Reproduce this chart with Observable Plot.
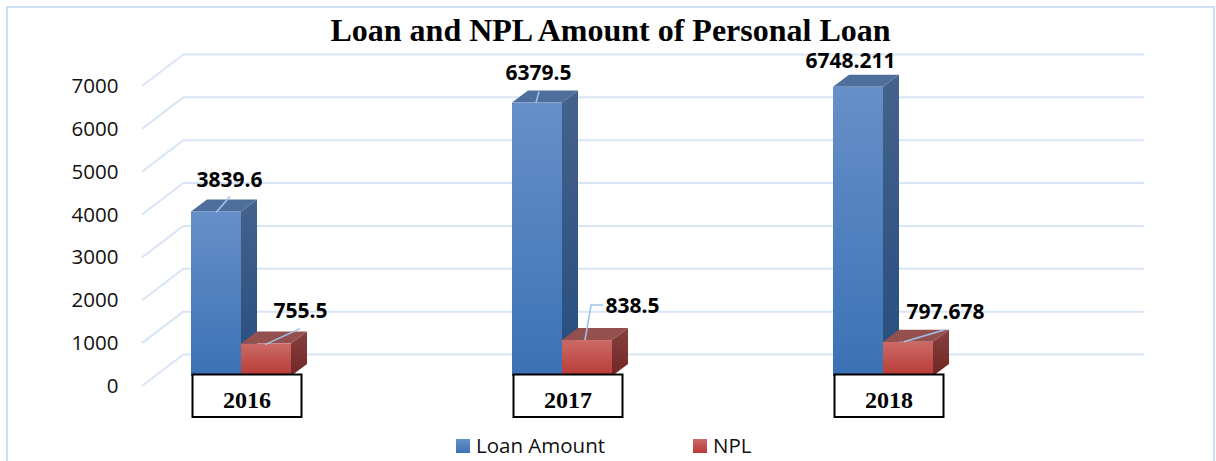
<!DOCTYPE html>
<html>
<head>
<meta charset="utf-8">
<script src="https://cdn.jsdelivr.net/npm/d3@7"></script>
<script src="https://cdn.jsdelivr.net/npm/@observablehq/plot@0.6"></script>
<style>
html,body{margin:0;padding:0;background:#fff;overflow:hidden}
svg{display:block}
</style>
</head>
<body>
<div id="chart"></div>
<script>
const chartTitle = "Loan and NPL Amount of Personal Loan";
const years = [2016, 2017, 2018];
const seriesNames = ["Loan Amount", "NPL"];
const loanAmount = [3839.6, 6379.5, 6748.211];
const npl = [755.5, 838.5, 797.678];
const yTicks = [0, 1000, 2000, 3000, 4000, 5000, 6000, 7000];

// layout (pixels)
const BAR = 50, BAR_DX = 16, BAR_DY = 12, BAR_LIFT = 10, WALL_DX = 42, WALL_DY = 32;
const GRID = "#d8e5f5", LEADER = "#9dc3e8";
const PX_PER_YEAR = 321;
const barW = BAR / PX_PER_YEAR;
const sans = "'Open Sans', sans-serif";
const serif = "'Liberation Serif', serif";

const loanRows = years.map((year, i) => ({year, value: loanAmount[i]}));
const nplRows = years.map((year, i) => ({year, value: npl[i]}));
const labelOffsets = {
  loan: [[13, -32], [1, -30], [-8, -26]],
  npl: [[34, -33], [45, -34], [37, -30]]
};
const leaders = {
  loan: [[[0, 1], [14, -15]], [[-1, 0], [2, -11]], null],
  npl: [[[-1, 1], [34, -15]], [[-2, 0], [4, -35], [16, -35]], [[-4, 0], [37, -12]]]
};

const ns = "http://www.w3.org/2000/svg";
function el(name, attrs, parent, text) {
  const e = document.createElementNS(ns, name);
  for (const k in attrs) e.setAttribute(k, attrs[k]);
  if (text != null) e.textContent = text;
  if (parent) parent.appendChild(e);
  return e;
}
function gradient(defs, id, top, bottom) {
  const g = el("linearGradient", {id, x1: 0, y1: 0, x2: 0, y2: 1}, defs);
  el("stop", {offset: "0%", "stop-color": top}, g);
  el("stop", {offset: "100%", "stop-color": bottom}, g);
}
const defsMark = () => {
  const g = el("g", {});
  const defs = el("defs", {}, g);
  gradient(defs, "loanFront", "#678fc8", "#3b72b5");
  gradient(defs, "loanSide", "#44628c", "#274d7e");
  gradient(defs, "nplFront", "#cb6a66", "#b83a36");
  gradient(defs, "nplSide", "#87403e", "#702624");
  return g;
};
const frameMark = (idx, s, v, dim) => {
  return el("rect", {x: 7, y: 7, width: dim.width - 9, height: dim.height + 20, fill: "none", stroke: "#cfdff3", "stroke-width": 2});
};
const diagonals = (idx, {x, y}) => {
  const g = el("g", {});
  const x0 = x(2016 - 99 / PX_PER_YEAR);
  for (const t of yTicks) {
    el("line", {x1: x0, y1: y(t), x2: x0 + WALL_DX, y2: y(t) - WALL_DY, stroke: GRID, "stroke-width": 2}, g);
  }
  return g;
};
const faces = (rows, side, topFill) => (idx, {x, y}) => {
  const g = el("g", {});
  for (const d of rows) {
    const xl = x(d.year + (side === "npl" ? 0 : -barW));
    const xr = xl + BAR;
    const yt = y(d.value) - BAR_LIFT;
    const yb = y(0) - BAR_LIFT;
    el("polygon", {points: `${xl},${yt} ${xl + BAR_DX},${yt - BAR_DY} ${xr + BAR_DX},${yt - BAR_DY} ${xr},${yt}`, fill: topFill}, g);
    el("polygon", {points: `${xr},${yt} ${xr + BAR_DX},${yt - BAR_DY} ${xr + BAR_DX},${yb - BAR_DY} ${xr},${yb}`, fill: `url(#${side}Side)`}, g);
  }
  return g;
};
const leaderLines = (rows, side) => (idx, {x, y}) => {
  const g = el("g", {});
  rows.forEach((d, i) => {
    const pts = leaders[side][i];
    if (!pts) return;
    const cx = x(d.year + (side === "npl" ? barW / 2 : -barW / 2));
    const cy = y(d.value) - BAR_LIFT;
    el("polyline", {points: pts.map(([a, b]) => `${cx + a},${cy + b}`).join(" "), fill: "none", stroke: LEADER, "stroke-width": 1.6}, g);
  });
  return g;
};
const yearBoxes = (idx, {x, y}) => {
  const g = el("g", {});
  for (const yr of years) {
    const xl = x(yr) - BAR + 1.5;
    el("rect", {x: xl, y: y(0) - 11.5, width: 109, height: 42.5, fill: "#fff", stroke: "#000", "stroke-width": 2}, g);
    el("text", {x: xl + 54.5, y: y(0) + 22, "text-anchor": "middle", "font-family": serif, "font-weight": "bold", "font-size": 24, fill: "#000"}, g, yr);
  }
  return g;
};
const legend = () => {
  const g = el("g", {});
  const items = [[456, "url(#loanFront)"], [693, "url(#nplFront)"]];
  seriesNames.forEach((name, i) => {
    const [lx, fill] = items[i];
    el("rect", {x: lx, y: 439, width: 14, height: 14, fill}, g);
    el("text", {x: lx + 20, y: 453, "text-anchor": "start", "font-family": sans, "font-size": 20.5, fill: "#111"}, g, name);
  });
  return g;
};
const labelMark = (rows, side) => Plot.text(rows.map((d, i) => ({...d, ox: labelOffsets[side][i][0], oy: labelOffsets[side][i][1]})), {
  x: d => d.year + (side === "npl" ? barW / 2 : -barW / 2) + d.ox / PX_PER_YEAR,
  y: d => d.value,
  text: d => String(d.value),
  fontFamily: sans,
  fontWeight: "bold",
  fontSize: 21,
  fill: "#000",
  render(index, scales, values, dim, ctx, next) {
    const g = next(index, scales, values, dim, ctx);
    g.querySelectorAll("text").forEach((t, j) => {
      const off = labelOffsets[side][index[j]][1] - BAR_LIFT;
      t.setAttribute("transform", `${t.getAttribute("transform") || ""} translate(0,${off})`);
    });
    return g;
  }
});

const plot = Plot.plot({
  width: 1216,
  height: 461,
  marginLeft: 142,
  marginRight: 114,
  marginTop: 86,
  marginBottom: 75,
  style: {background: "#fff", overflow: "visible"},
  x: {type: "linear", domain: [2016 - 99 / PX_PER_YEAR, 2018 + 219 / PX_PER_YEAR], axis: null},
  y: {domain: [0, 7000], ticks: yTicks, label: null},
  marks: [
    defsMark,
    frameMark,
    Plot.ruleY(yTicks, {dx: WALL_DX, dy: -WALL_DY, stroke: GRID, strokeWidth: 2}),
    diagonals,
    Plot.axisY({ticks: yTicks, tickSize: 0, tickPadding: 24, tickFormat: d => String(d), fontFamily: sans, fontSize: 20.5, fill: "#111", label: null}),
    faces(loanRows, "loan", "#4e6f9b"),
    Plot.rectY(loanRows, {x1: d => d.year - barW, x2: d => d.year, y: "value", fill: "url(#loanFront)", dy: -BAR_LIFT, inset: 0}),
    faces(nplRows, "npl", "#94504e"),
    Plot.rectY(nplRows, {x1: d => d.year, x2: d => d.year + barW, y: "value", fill: "url(#nplFront)", dy: -BAR_LIFT, inset: 0}),
    leaderLines(loanRows, "loan"),
    leaderLines(nplRows, "npl"),
    yearBoxes,
    labelMark(loanRows, "loan"),
    labelMark(nplRows, "npl"),
    Plot.text([chartTitle], {frameAnchor: "top", dx: -12, dy: -56, fontFamily: serif, fontWeight: "bold", fontSize: 32, fill: "#000", lineAnchor: "middle"}),
    legend
  ]
});
document.getElementById("chart").appendChild(plot);
</script>
</body>
</html>
